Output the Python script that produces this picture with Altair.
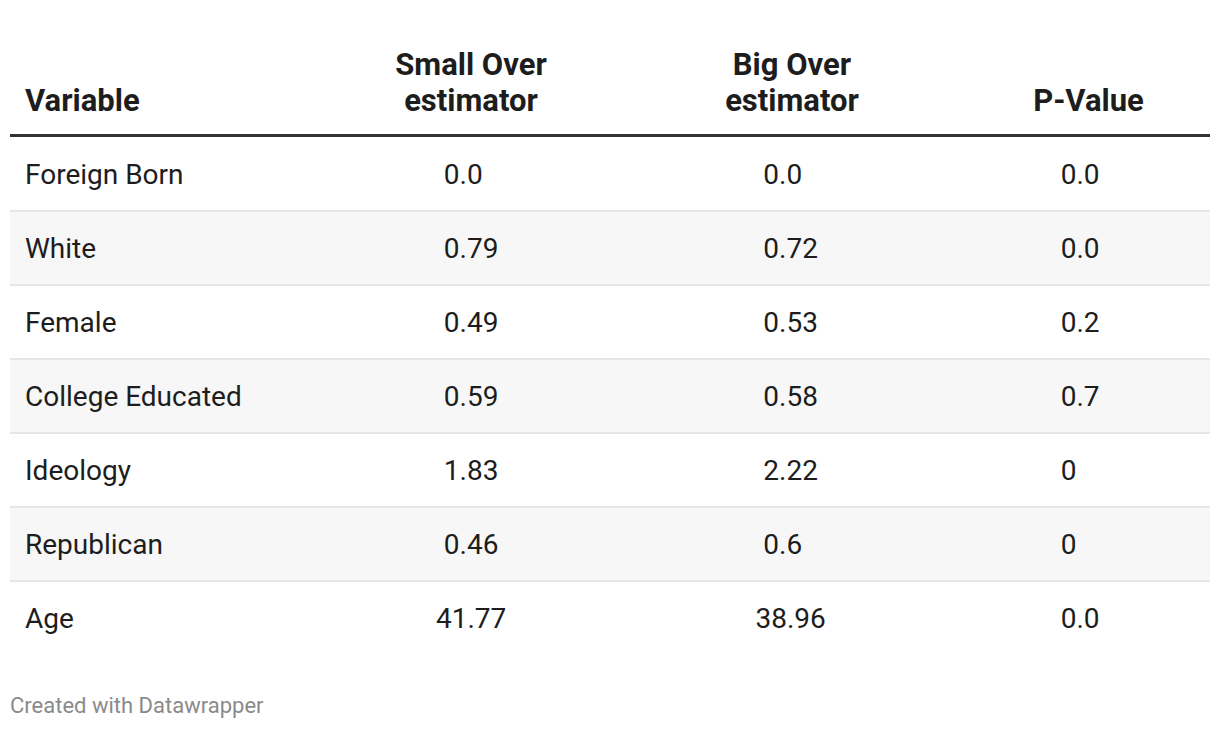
import altair as alt
import pandas as pd

# ---------------- data ----------------
variables = ["Foreign Born", "White", "Female", "College Educated", "Ideology", "Republican", "Age"]
small_over = ["0.0", "0.79", "0.49", "0.59", "1.83", "0.46", "41.77"]
big_over = ["0.0", "0.72", "0.53", "0.58", "2.22", "0.6", "38.96"]
p_value = ["0.0", "0.0", "0.2", "0.7", "0", "0", "0.0"]
header_line1 = ["", "Small Over", "Big Over", ""]
header_line2 = ["Variable", "estimator", "estimator", "P-Value"]
footer_text = "Created with Datawrapper"

# ---------------- layout (pixels / row units) ----------------
W, H = 1204, 714
ROW_H = 74
ROW0_CENTER = 166
LABEL_X = 17
VALUE_X = [463, 782.5, 1072]          # column centres of the number columns
HEAD_X = [17, 463, 784, 1080.5]
TABLE_X0, TABLE_X1 = 2, 1202
HEAD_ROW = [(67 - ROW0_CENTER) / ROW_H, (103 - ROW0_CENTER) / ROW_H]
FOOTER_ROW = (705 - ROW0_CENTER) / ROW_H
FONT = "Roboto"
BODY_SIZE = 28
HEAD_SIZE = 31
FOOT_SIZE = 22
TEXT_COLOR = "#1d1d1d"
DIGIT_EM = 0.5615   # Roboto tabular digit advance
POINT_EM = 0.257    # Roboto period advance

xscale = alt.Scale(domain=[0, W], range=[0, W], nice=False, zero=False)
yscale = alt.Scale(domain=[-ROW0_CENTER / ROW_H, (H - ROW0_CENTER) / ROW_H],
                   range=[0, H], nice=False, zero=False)

n = len(variables)
rows = pd.DataFrame({
    "row": list(range(n)),
    "variable": variables,
    "shaded": [i % 2 == 1 for i in range(n)],
})
rows["y0"] = rows["row"] - 0.5
rows["y1"] = rows["row"] + 0.5
rows["x0"] = TABLE_X0
rows["x1"] = TABLE_X1
rows["label_x"] = LABEL_X

# Datawrapper centres numbers as if padded to the column's max number of decimals,
# so each number starts at centre - padded_width / 2
cells = []
for ci, col in enumerate([small_over, big_over, p_value]):
    decs = [len(v.split(".")[1]) if "." in v else 0 for v in col]
    m = max(decs)
    for ri, txt in enumerate(col):
        n_int = len(txt.split(".")[0])
        padded_w = ((n_int + m) * DIGIT_EM + (POINT_EM if m > 0 else 0)) * BODY_SIZE
        cells.append({"row": ri, "x": VALUE_X[ci] - padded_w / 2, "text": txt})
cells = pd.DataFrame(cells)

heads = []
for ci in range(4):
    if header_line1[ci]:
        heads.append({"x": HEAD_X[ci], "y": HEAD_ROW[0], "text": header_line1[ci], "left": ci == 0})
    heads.append({"x": HEAD_X[ci], "y": HEAD_ROW[1], "text": header_line2[ci], "left": ci == 0})
heads = pd.DataFrame(heads)

seps = pd.DataFrame({"y": [i + 0.5 for i in range(n - 1)], "x0": TABLE_X0, "x1": TABLE_X1})
topline = pd.DataFrame({"y": [-0.5], "x0": [TABLE_X0], "x1": [TABLE_X1]})
footer = pd.DataFrame({"x": [TABLE_X0], "y": [FOOTER_ROW], "text": [footer_text]})

X = lambda f: alt.X(f, type="quantitative", scale=xscale, axis=None)
Y = lambda f: alt.Y(f, type="quantitative", scale=yscale, axis=None)

bands = alt.Chart(rows).transform_filter("datum.shaded").mark_rect(color="#f7f7f7").encode(
    x=X("x0"), x2="x1", y=Y("y0"), y2="y1")

sep_rules = alt.Chart(seps).mark_rule(color="#e6e6e6", strokeWidth=2).encode(
    x=X("x0"), x2="x1", y=Y("y"))

head_rule = alt.Chart(topline).mark_rule(color="#333333", strokeWidth=3, yOffset=-1.5).encode(
    x=X("x0"), x2="x1", y=Y("y"))

labels = alt.Chart(rows).mark_text(align="left", baseline="alphabetic", dy=10, font=FONT,
                                   fontSize=BODY_SIZE, color=TEXT_COLOR).encode(
    x=X("label_x"), y=Y("row"), text="variable:N")

values = alt.Chart(cells).mark_text(align="left", baseline="alphabetic", dy=10, font=FONT,
                                    fontSize=BODY_SIZE, color=TEXT_COLOR).encode(
    x=X("x"), y=Y("row"), text="text:N")

head_left = alt.Chart(heads).transform_filter("datum.left").mark_text(
    align="left", baseline="alphabetic", font=FONT, fontSize=HEAD_SIZE, fontWeight="bold",
    color=TEXT_COLOR).encode(x=X("x"), y=Y("y"), text="text:N")

head_center = alt.Chart(heads).transform_filter("!datum.left").mark_text(
    align="center", baseline="alphabetic", font=FONT, fontSize=HEAD_SIZE, fontWeight="bold",
    color=TEXT_COLOR).encode(x=X("x"), y=Y("y"), text="text:N")

foot = alt.Chart(footer).mark_text(align="left", baseline="alphabetic", font=FONT, fontSize=FOOT_SIZE,
                                   color="#8a8a8a").encode(x=X("x"), y=Y("y"), text="text:N")

chart = alt.layer(bands, sep_rules, head_rule, labels, values, head_left, head_center, foot).properties(
    width=W, height=H, autosize=alt.AutoSizeParams(type="none"), padding=0, background="white"
).configure_view(strokeWidth=0, stroke="transparent")

chart.save("out.html", embed_options={"renderer": "svg", "actions": False})
